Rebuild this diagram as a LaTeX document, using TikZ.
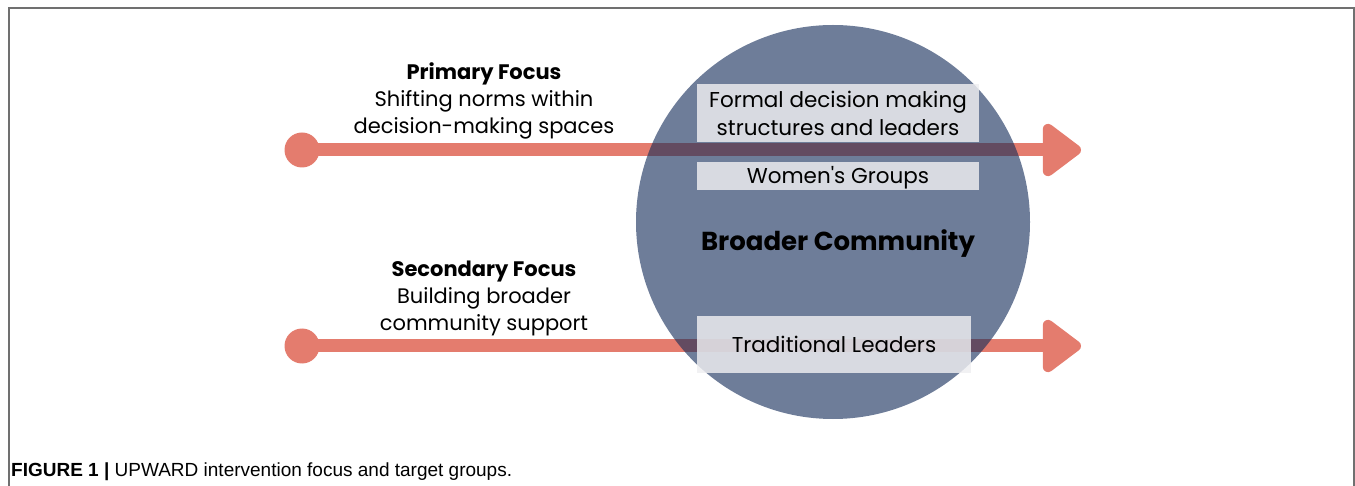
\documentclass[tikz,border=0pt]{standalone}
\usepackage{fontspec}
\setmainfont{Poppins}
\newfontfamily\capfont{Liberation Sans}
\usetikzlibrary{arrows.meta,positioning}

\definecolor{salmon}{RGB}{228,124,110}
\definecolor{slate}{RGB}{21,45,90}
\definecolor{boxgray}{RGB}{238,238,241}
\definecolor{framegray}{RGB}{112,112,112}

\begin{document}
\begin{tikzpicture}[x=1pt,y=-1pt,
  dot/.style={circle,fill=salmon,minimum size=35pt,inner sep=0pt},
  focus/.style={draw=salmon,line width=13pt,-{Triangle[length=42pt,width=60pt,round]}},
  community/.style={circle,fill=slate,fill opacity=0.62,minimum size=394pt,inner sep=0pt},
  grp/.style={fill=boxgray,fill opacity=0.83,text opacity=1,align=center,inner sep=0pt,font=\fontsize{21.5}{28}\selectfont},
  label/.style={align=center,font=\fontsize{21}{27}\selectfont}]

\useasboundingbox (0,0) rectangle (1355,486);

% frame
\draw[framegray,line width=2pt] (9,486) -- (9,8) -- (1354,8) -- (1354,486);

% focus arrows
\node[dot] (p1) at (302,150) {};
\coordinate (t1) at (1081,150);
\draw[focus] (p1.center) -- (t1);
\node[dot] (p2) at (302,346) {};
\coordinate (t2) at (1081,346);
\draw[focus] (p2.center) -- (t2);

\node[label] (primary) at (484,100.5) {\textbf{Primary Focus}\\Shifting norms within\\decision-making spaces};
\node[label] (secondary) at (484,298) {\textbf{Secondary Focus}\\Building broader\\community support};

% broader community
\node[community] (bc) at (833,222) {};
\node[font=\fontsize{26}{30}\bfseries\selectfont] (bctext) at (838,243.5) {Broader Community};

\node[grp,minimum width=282pt,minimum height=58pt] (formal) at (838,113) {Formal decision making\\structures and leaders};
\node[grp,minimum width=282pt,minimum height=28pt,text depth=2pt] (women) at (838,176) {Women\textquotesingle s Groups};
\node[grp,minimum width=274pt,minimum height=57pt] (trad) at (834,344.5) {Traditional Leaders};

% caption
\node[anchor=west,inner sep=0pt,font=\capfont\fontsize{19}{22}\selectfont] (cap) at (11,471.5)
  {\textbf{FIGURE 1 |} UPWARD intervention focus and target groups.};
\end{tikzpicture}
\end{document}
